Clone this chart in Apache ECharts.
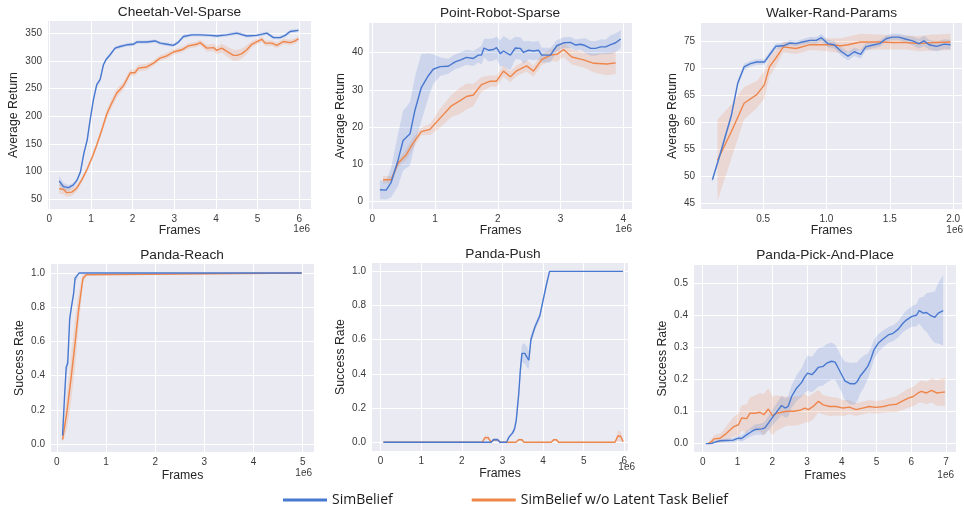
<!DOCTYPE html>
<html>
<head>
<meta charset="utf-8">
<script src="https://cdn.jsdelivr.net/npm/echarts@6/dist/echarts.min.js"></script>
<style>
html,body{margin:0;padding:0;background:#fff;}
#chart{width:964px;height:512px;}
</style>
</head>
<body>
<div id="chart"></div>
<script>
// ---------- DATA (x in units of 1e6 frames) ----------
const legendNames = ['SimBelief', 'SimBelief w/o Latent Task Belief'];
const titles = ['Cheetah-Vel-Sparse', 'Point-Robot-Sparse', 'Walker-Rand-Params', 'Panda-Reach', 'Panda-Push', 'Panda-Pick-And-Place'];
const yNames = ['Average Return', 'Average Return', 'Average Return', 'Success Rate', 'Success Rate', 'Success Rate'];

// Cheetah-Vel-Sparse
const cheetahBlueX = [0.24,0.34,0.46,0.58,0.67,0.75,0.83,0.91,0.98,1.06,1.14,1.22,1.30,1.36,1.46,1.58,1.70,1.86,2.02,2.10,2.34,2.54,2.66,2.82,2.98,3.10,3.22,3.42,3.62,3.86,4.02,4.26,4.50,4.74,4.98,5.22,5.38,5.54,5.66,5.78,5.98];
const cheetahBlueY = [83,73,71,76,85,100,133,157,193,230,257,266,293,302,311,323,326,329,330,334,334,336,332,330,328,334,344,347,347,346,345,347,350,345,346,350,342,342,346,353,355];
const cheetahBlueSpread = [9,7,5,4,4,4,5,5,5,5,4,4,3,3,3,3,3,3,3,3,3,3,3,3,3,3,3,3,3,3,3,3,3,3,3,3,3,3,3,3,3];
const cheetahOrangeX = [0.24,0.34,0.42,0.54,0.66,0.78,0.90,1.02,1.14,1.26,1.38,1.50,1.62,1.78,1.94,2.06,2.14,2.34,2.50,2.66,2.82,2.98,3.18,3.34,3.54,3.62,3.78,3.94,4.02,4.14,4.26,4.42,4.51,4.62,4.74,4.86,5.02,5.10,5.18,5.34,5.46,5.62,5.78,5.90,5.98];
const cheetahOrangeY = [69,68,62,63,70,85,103,124,148,175,204,224,242,255,278,279,287,289,296,305,309,316,320,327,330,333,323,324,319,323,317,310,310,313,320,330,336,339,332,332,328,335,333,336,340];
const cheetahOrangeSpread = [9,9,8,7,6,5,5,5,6,7,8,8,8,7,6,6,6,6,5,5,5,5,5,5,5,5,6,7,7,8,9,10,10,9,8,6,5,5,5,5,5,5,5,5,5];

// Point-Robot-Sparse
const pointBlueX = [0.12,0.22,0.30,0.41,0.49,0.60,0.68,0.78,0.89,0.97,1.08,1.21,1.32,1.42,1.50,1.61,1.69,1.74,1.78,1.85,1.93,1.98,2.04,2.09,2.20,2.28,2.36,2.41,2.49,2.57,2.65,2.70,2.84,2.94,3.05,3.16,3.24,3.32,3.40,3.48,3.56,3.64,3.72,3.80,3.88,3.96];
const pointBlueY = [3.2,3.1,5.2,11.2,16.4,18.2,24.6,30.6,33.7,35.5,36.2,36.3,37.5,38.1,38.7,38.4,39.3,39.3,41.2,40.6,40.8,41.3,39.7,40.4,39.3,41.2,41.1,40.0,40.6,40.4,40.6,39.3,39.3,41.8,42.6,42.7,42.0,42.2,41.8,41.1,41.1,41.5,41.5,42.1,42.6,43.6];
const pointBlueSpread = [2.5,2.5,4,7,8,8.5,9,9,6,4,2.5,2,2,2,2,2,2,2.5,2.5,3,3,3,3.5,4,4,3,3,3,2.5,2.5,2.5,2,2,1.5,1.5,1.5,1.5,1.5,2,2,2,2,2,2.5,2.5,2.5];
const pointOrangeX = [0.17,0.30,0.41,0.54,0.65,0.78,0.92,1.08,1.26,1.40,1.50,1.61,1.74,1.88,1.98,2.09,2.20,2.30,2.46,2.57,2.70,2.84,2.94,3.05,3.18,3.37,3.53,3.74,3.88];
const pointOrangeY = [5.9,5.9,10.3,12.6,15.7,18.8,19.4,22.4,25.7,27.1,28.2,28.6,31.4,32.3,32.3,35.0,33.5,35.1,36.4,35.0,38.1,39.3,39.5,40.8,38.8,38.0,37.1,36.9,37.2];
const pointOrangeSpread = [1,1,1,1.5,1.5,1,1.5,2.5,3,3.5,3.5,3,2,1.5,1.5,1.5,1.5,1.5,1.5,1.5,1.5,1.5,2,2,2,2,2.5,3,3];

// Walker-Rand-Params
const walkerBlueX = [0.10,0.16,0.25,0.30,0.35,0.40,0.45,0.51,0.55,0.60,0.66,0.71,0.76,0.81,0.87,0.92,0.96,1.01,1.06,1.12,1.17,1.22,1.27,1.31,1.36,1.42,1.47,1.52,1.57,1.63,1.68,1.73,1.77,1.81,1.87,1.93,1.98];
const walkerBlueY = [49.4,54.0,61.3,67.2,70.2,70.8,71.1,71.1,72.4,74.0,74.1,74.6,74.5,74.8,75.1,75.1,75.6,74.5,74.3,73.0,72.2,73.0,72.5,73.9,74.2,74.5,75.4,75.7,75.7,75.3,75.0,74.5,75.0,74.3,74.0,74.4,74.3];
const walkerBlueSpread = [0.5,0.6,0.6,0.6,0.6,0.5,0.5,0.5,0.5,0.5,0.5,0.5,0.5,0.5,0.6,0.6,0.7,0.7,0.7,0.8,0.8,0.8,0.8,0.7,0.6,0.6,0.6,0.6,0.6,0.7,0.8,0.9,1,0.9,0.9,0.9,0.9];
const walkerOrangeX = [0.14,0.25,0.35,0.45,0.51,0.55,0.60,0.66,0.76,0.87,1.01,1.12,1.17,1.27,1.42,1.52,1.63,1.73,1.84,1.98];
const walkerOrangeY = [53.0,58.3,63.5,65.1,66.9,70.2,71.8,73.9,73.6,74.3,74.3,74.1,74.3,74.8,74.8,74.7,74.7,74.5,74.7,74.8];
const walkerOrangeSpread = [7.5,5,3,2.5,2.5,1.8,1.5,1,1,1,1.2,1.4,1.5,1.5,1.4,1.3,1.3,1.4,1.5,1.5];

// Panda-Reach
const reachBlueX = [0.115,0.156,0.19,0.22,0.26,0.30,0.34,0.37,0.41,0.45,4.98];
const reachBlueY = [0.05,0.28,0.45,0.47,0.73,0.81,0.88,0.97,0.97,1.0,1.0];
const reachBlueSpread = [0.02,0.03,0.03,0.03,0.03,0.02,0.02,0.01,0.01,0,0];
const reachOrangeX = [0.115,0.20,0.29,0.37,0.44,0.53,0.60,0.64,4.98];
const reachOrangeY = [0.025,0.18,0.39,0.59,0.78,0.97,0.99,1.0,1.0];
const reachOrangeSpread = [0.02,0.1,0.14,0.14,0.1,0.03,0.01,0,0];

// Panda-Push
const pushBlueX = [0.07,2.55,2.72,2.78,2.88,2.94,3.10,3.16,3.25,3.30,3.34,3.40,3.44,3.48,3.55,3.61,3.65,3.70,3.80,3.92,4.00,4.08,4.16,5.97];
const pushBlueY = [0,0,0,0.015,0.015,0,0,0.03,0.055,0.08,0.13,0.28,0.42,0.52,0.52,0.495,0.48,0.60,0.675,0.74,0.83,0.92,1.0,1.0];
const pushBlueSpread = [0,0,0,0.01,0.01,0,0,0.01,0.01,0.02,0.02,0.03,0.04,0.05,0.06,0.06,0.05,0.03,0.02,0.02,0.02,0.02,0,0];
const pushOrangeX = [0.07,2.50,2.57,2.65,2.72,2.78,2.88,2.94,3.33,3.40,3.48,3.53,4.20,4.26,4.33,4.38,5.77,5.84,5.91,5.97];
const pushOrangeY = [0,0,0.027,0.027,0,0.015,0.015,0,0,0.015,0.015,0,0,0.015,0.015,0,0,0.037,0.035,0.004];
const pushOrangeSpread = [0,0,0.012,0.012,0,0.008,0.008,0,0,0.006,0.006,0,0,0.006,0.006,0,0,0.03,0.03,0.004];

// Panda-Pick-And-Place
const pickBlueX = [0.09,0.26,0.35,0.50,0.69,0.88,1.03,1.12,1.27,1.41,1.51,1.70,1.79,1.89,2.03,2.18,2.27,2.37,2.46,2.56,2.70,2.85,2.94,3.02,3.14,3.23,3.33,3.47,3.57,3.71,3.81,3.90,4.00,4.09,4.24,4.38,4.45,4.53,4.64,4.75,4.83,4.93,5.05,5.20,5.34,5.48,5.63,5.77,5.87,6.01,6.16,6.23,6.35,6.44,6.54,6.68,6.78,6.92];
const pickBlueY = [0,0.001,0.005,0.009,0.01,0.011,0.017,0.016,0.028,0.038,0.044,0.046,0.049,0.064,0.085,0.106,0.119,0.111,0.116,0.147,0.173,0.191,0.209,0.22,0.215,0.225,0.238,0.241,0.251,0.257,0.254,0.236,0.215,0.196,0.187,0.187,0.194,0.21,0.225,0.241,0.261,0.293,0.313,0.327,0.339,0.344,0.357,0.376,0.386,0.396,0.401,0.415,0.407,0.409,0.401,0.394,0.407,0.415];
const pickBlueSpread = [0.002,0.003,0.004,0.005,0.006,0.007,0.008,0.01,0.012,0.014,0.016,0.018,0.02,0.022,0.025,0.028,0.03,0.03,0.032,0.035,0.04,0.045,0.05,0.055,0.055,0.058,0.06,0.06,0.06,0.058,0.055,0.055,0.055,0.06,0.065,0.065,0.06,0.055,0.05,0.04,0.035,0.03,0.028,0.026,0.025,0.025,0.025,0.028,0.03,0.032,0.035,0.04,0.05,0.06,0.07,0.08,0.095,0.11];
const pickOrangeX = [0.16,0.26,0.33,0.50,0.64,0.74,0.88,1.03,1.12,1.27,1.36,1.51,1.65,1.76,1.89,2.01,2.13,2.27,2.42,2.61,2.80,2.94,3.04,3.18,3.33,3.47,3.66,3.85,4.04,4.22,4.41,4.60,4.79,4.99,5.20,5.39,5.58,5.77,5.92,6.06,6.20,6.29,6.44,6.59,6.73,6.87,6.97];
const pickOrangeY = [0,0.007,0.015,0.017,0.028,0.038,0.052,0.059,0.08,0.078,0.095,0.095,0.098,0.09,0.108,0.087,0.095,0.098,0.101,0.101,0.104,0.111,0.106,0.116,0.132,0.121,0.116,0.116,0.111,0.114,0.106,0.111,0.116,0.113,0.116,0.121,0.123,0.134,0.142,0.147,0.158,0.163,0.158,0.166,0.158,0.16,0.161];
const pickOrangeSpread = [0.003,0.008,0.012,0.015,0.02,0.025,0.03,0.035,0.04,0.045,0.05,0.055,0.06,0.065,0.065,0.06,0.055,0.05,0.045,0.045,0.045,0.045,0.04,0.04,0.035,0.03,0.03,0.028,0.025,0.022,0.02,0.02,0.02,0.02,0.02,0.022,0.025,0.028,0.03,0.03,0.032,0.035,0.035,0.038,0.04,0.042,0.045];

// Tick labels
const xTicks = [[0,1,2,3,4,5,6],[0,1,2,3,4],[0.5,1.0,1.5,2.0],[0,1,2,3,4,5],[0,1,2,3,4,5,6],[0,1,2,3,4,5,6,7]];
const yTicks = [[50,100,150,200,250,300,350],[0,10,20,30,40],[45,50,55,60,65,70,75],[0,0.2,0.4,0.6,0.8,1.0],[0,0.2,0.4,0.6,0.8,1.0],[0,0.1,0.2,0.3,0.4,0.5]];
const xDecimals = [0,0,1,0,0,0];
const yDecimals = [0,0,0,1,1,1];

// ---------- LAYOUT ----------
const grids = [
  {left:48, top:21, width:263, height:188},
  {left:369, top:23, width:263, height:186},
  {left:701, top:23, width:261, height:186},
  {left:51, top:264, width:263, height:188},
  {left:372, top:263, width:256, height:188},
  {left:694, top:265, width:262, height:187}
];
const xRange = [[-0.03,6.28],[-0.054,4.14],[0.01,2.07],[-0.12,5.23],[-0.21,6.09],[-0.25,7.29]];
const yRange = [[32.5,372],[-1.95,47.9],[44.0,78.3],[-0.047,1.053],[-0.051,1.049],[-0.026,0.557]];
const titlePos = [[179.5,5.5],[500,6.5],[831.5,6],[182,248],[503,247],[825,248.5]];
const xNameGap = [16,16,15.5,18,16.5,17.5];
const yNameGap = [28,22,22,25,25,25];
const expPos = [[310,229.5],[632,229],[963,230],[312,473],[635,467],[954,475]];

const BLUE = '#4878d0', ORANGE = '#ee854a';
const BLUE_BAND = 'rgba(72,120,208,0.18)', ORANGE_BAND = 'rgba(238,133,74,0.18)';
const FONT = 'Liberation Sans, Arial, sans-serif';
const TEXT = '#262626';

const curves = [
  [cheetahBlueX,cheetahBlueY,cheetahBlueSpread,cheetahOrangeX,cheetahOrangeY,cheetahOrangeSpread],
  [pointBlueX,pointBlueY,pointBlueSpread,pointOrangeX,pointOrangeY,pointOrangeSpread],
  [walkerBlueX,walkerBlueY,walkerBlueSpread,walkerOrangeX,walkerOrangeY,walkerOrangeSpread],
  [reachBlueX,reachBlueY,reachBlueSpread,reachOrangeX,reachOrangeY,reachOrangeSpread],
  [pushBlueX,pushBlueY,pushBlueSpread,pushOrangeX,pushOrangeY,pushOrangeSpread],
  [pickBlueX,pickBlueY,pickBlueSpread,pickOrangeX,pickOrangeY,pickOrangeSpread]
];

// Confidence band: one polygon through the axis scales (api.coord)
function bandSeries(gi, xs, ys, sp, color) {
  return {
    type:'custom', xAxisIndex:gi, yAxisIndex:gi, silent:true, z:1, clip:true,
    data: xs.map((x,i)=>[x, ys[i]-sp[i], ys[i]+sp[i]]),
    encode:{x:0, y:[1,2]},
    renderItem:(params, api) => {
      if (params.dataIndex !== 0) return null;
      const upper = [], lower = [];
      for (let i = 0; i < xs.length; i++) {
        upper.push(api.coord([xs[i], ys[i]+sp[i]]));
        lower.push(api.coord([xs[i], ys[i]-sp[i]]));
      }
      return {type:'polygon', shape:{points: upper.concat(lower.reverse())}, style:{fill:color}};
    }
  };
}
function meanSeries(gi, xs, ys, color, name, z) {
  return {type:'line', name:name, xAxisIndex:gi, yAxisIndex:gi, symbol:'none', z:z,
    itemStyle:{color:color}, lineStyle:{color:color, width:1.4},
    data: xs.map((x,i)=>[x, ys[i]])};
}

const series = [];
curves.forEach((c, gi) => {
  series.push(bandSeries(gi, c[3], c[4], c[5], ORANGE_BAND));
  series.push(bandSeries(gi, c[0], c[1], c[2], BLUE_BAND));
});
curves.forEach((c, gi) => {
  series.push(meanSeries(gi, c[3], c[4], ORANGE, legendNames[1], 3));
  series.push(meanSeries(gi, c[0], c[1], BLUE, legendNames[0], 4));
});

const option = {
  animation:false,
  backgroundColor:'#ffffff',
  title: titles.map((t,i)=>({text:t, left:titlePos[i][0], top:titlePos[i][1], textAlign:'center', padding:0,
    textStyle:{fontFamily:FONT, fontSize:13.7, fontWeight:'normal', color:TEXT}})),
  legend: {
    data: [{name:legendNames[0], icon:'rect'},{name:legendNames[1], icon:'rect'}],
    left:283, top:493, padding:0, itemWidth:44, itemHeight:3, itemGap:79,
    textStyle:{fontFamily:'Open Sans, Noto Sans, sans-serif', fontSize:14, color:'#1a1a1a'}
  },
  grid: grids.map(g=>Object.assign({show:true, backgroundColor:'#eaeaf2', borderWidth:0, containLabel:false}, g)),
  xAxis: grids.map((g,i)=>({
    type:'value', gridIndex:i, min:xRange[i][0], max:xRange[i][1],
    name:'Frames', nameLocation:'middle', nameGap:xNameGap[i],
    nameTextStyle:{fontFamily:FONT, fontSize:12.3, color:TEXT},
    axisLine:{show:false}, axisTick:{show:false, customValues:xTicks[i]},
    axisLabel:{customValues:xTicks[i], margin:5, fontFamily:FONT, fontSize:10, color:'#3a3a3a',
      formatter:(v)=>Number(v).toFixed(xDecimals[i])},
    splitLine:{show:true, lineStyle:{color:'#ffffff', width:1}}
  })),
  yAxis: grids.map((g,i)=>({
    type:'value', gridIndex:i, min:yRange[i][0], max:yRange[i][1],
    name:yNames[i], nameLocation:'middle', nameGap:yNameGap[i],
    nameTextStyle:{fontFamily:FONT, fontSize:12.3, color:TEXT},
    axisLine:{show:false}, axisTick:{show:false, customValues:yTicks[i]},
    axisLabel:{customValues:yTicks[i], margin:6, fontFamily:FONT, fontSize:10, color:'#3a3a3a',
      formatter:(v)=>Number(v).toFixed(yDecimals[i])},
    splitLine:{show:true, lineStyle:{color:'#ffffff', width:1}}
  })),
  graphic: expPos.map(p=>({type:'text', x:p[0], y:p[1],
    style:{text:'1e6', align:'right', verticalAlign:'middle', fontFamily:FONT, fontSize:10, fill:'#3a3a3a'}})),
  series: series
};

const chart = echarts.init(document.getElementById('chart'), null, {renderer:'canvas'});
chart.setOption(option);
</script>
</body>
</html>
